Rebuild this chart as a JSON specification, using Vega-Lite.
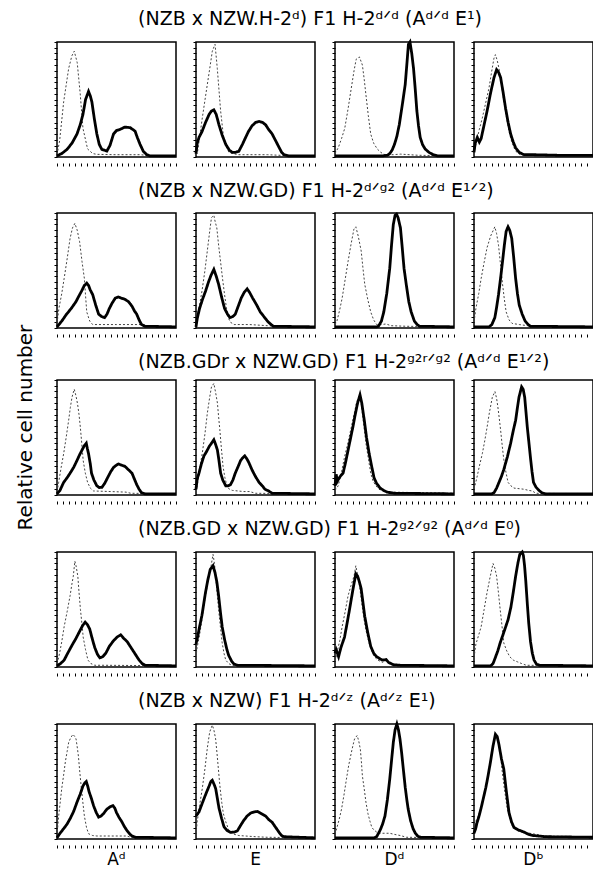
{
"$schema": "https://vega.github.io/schema/vega-lite/v6.json",
"padding": {"left": 15, "top": 9, "right": 0, "bottom": 0},
"config": {
 "view": {"stroke": "#000", "strokeWidth": 1.5},
 "font": "DejaVu Sans",
 "axis": {"labels": false, "title": null, "domain": false, "grid": false, "ticks": true, "tickSize": 3, "tickColor": "#000", "tickWidth": 1, "minExtent": 0, "maxExtent": 3},
 "title": {"font": "DejaVu Sans", "fontWeight": "normal", "color": "#000"}
},
"title": {"text": "Relative cell number", "orient": "left", "anchor": "middle", "fontSize": 20, "offset": 15, "dx": 11},
"datasets": {"d": [
{"r":1,"c":1,"s":"a","x":0,"y":2},{"r":1,"c":1,"s":"a","x":2.2,"y":14},{"r":1,"c":1,"s":"a","x":5.6,"y":48},{"r":1,"c":1,"s":"a","x":9.8,"y":77},{"r":1,"c":1,"s":"a","x":12.5,"y":88},{"r":1,"c":1,"s":"a","x":14.5,"y":92},{"r":1,"c":1,"s":"a","x":17,"y":82},{"r":1,"c":1,"s":"a","x":19.5,"y":55},{"r":1,"c":1,"s":"a","x":21.8,"y":25},{"r":1,"c":1,"s":"a","x":25.7,"y":7},{"r":1,"c":1,"s":"a","x":30,"y":3},{"r":1,"c":1,"s":"a","x":33.5,"y":2.3},{"r":1,"c":1,"s":"a","x":50,"y":2},{"r":1,"c":1,"s":"a","x":70,"y":2},{"r":1,"c":1,"s":"a","x":80,"y":1},{"r":1,"c":1,"s":"a","x":100,"y":1},
{"r":1,"c":1,"s":"b","x":0,"y":1},{"r":1,"c":1,"s":"b","x":4,"y":3},{"r":1,"c":1,"s":"b","x":8.4,"y":6.6},{"r":1,"c":1,"s":"b","x":12.6,"y":12},{"r":1,"c":1,"s":"b","x":16.8,"y":20},{"r":1,"c":1,"s":"b","x":19.5,"y":28},{"r":1,"c":1,"s":"b","x":21.8,"y":37},{"r":1,"c":1,"s":"b","x":24,"y":50},{"r":1,"c":1,"s":"b","x":26.5,"y":57},{"r":1,"c":1,"s":"b","x":28,"y":53},{"r":1,"c":1,"s":"b","x":29.3,"y":48},{"r":1,"c":1,"s":"b","x":31.4,"y":33},{"r":1,"c":1,"s":"b","x":33.5,"y":20},{"r":1,"c":1,"s":"b","x":35.5,"y":11},{"r":1,"c":1,"s":"b","x":37.7,"y":6.6},{"r":1,"c":1,"s":"b","x":41.9,"y":5.2},{"r":1,"c":1,"s":"b","x":44.5,"y":10},{"r":1,"c":1,"s":"b","x":47.5,"y":20},{"r":1,"c":1,"s":"b","x":50,"y":23},{"r":1,"c":1,"s":"b","x":53,"y":24},{"r":1,"c":1,"s":"b","x":57,"y":26},{"r":1,"c":1,"s":"b","x":61.5,"y":25.5},{"r":1,"c":1,"s":"b","x":65.6,"y":22.5},{"r":1,"c":1,"s":"b","x":67.5,"y":17},{"r":1,"c":1,"s":"b","x":69.8,"y":11},{"r":1,"c":1,"s":"b","x":72.5,"y":5},{"r":1,"c":1,"s":"b","x":75.4,"y":2},{"r":1,"c":1,"s":"b","x":78,"y":1},{"r":1,"c":1,"s":"b","x":100,"y":1},
{"r":1,"c":2,"s":"a","x":0,"y":2},{"r":1,"c":2,"s":"a","x":1.1,"y":3},{"r":1,"c":2,"s":"a","x":5.3,"y":34},{"r":1,"c":2,"s":"a","x":9.5,"y":63},{"r":1,"c":2,"s":"a","x":12,"y":80},{"r":1,"c":2,"s":"a","x":13.7,"y":92},{"r":1,"c":2,"s":"a","x":16,"y":98},{"r":1,"c":2,"s":"a","x":17.9,"y":77},{"r":1,"c":2,"s":"a","x":20.7,"y":40},{"r":1,"c":2,"s":"a","x":23.5,"y":14},{"r":1,"c":2,"s":"a","x":27.7,"y":4},{"r":1,"c":2,"s":"a","x":35,"y":2},{"r":1,"c":2,"s":"a","x":60,"y":2},{"r":1,"c":2,"s":"a","x":80,"y":1},{"r":1,"c":2,"s":"a","x":100,"y":1},
{"r":1,"c":2,"s":"b","x":0,"y":3},{"r":1,"c":2,"s":"b","x":1,"y":12},{"r":1,"c":2,"s":"b","x":2.5,"y":17},{"r":1,"c":2,"s":"b","x":5,"y":22},{"r":1,"c":2,"s":"b","x":8,"y":30},{"r":1,"c":2,"s":"b","x":11,"y":37},{"r":1,"c":2,"s":"b","x":13,"y":40},{"r":1,"c":2,"s":"b","x":15,"y":41},{"r":1,"c":2,"s":"b","x":17,"y":37},{"r":1,"c":2,"s":"b","x":19.3,"y":28},{"r":1,"c":2,"s":"b","x":22,"y":19},{"r":1,"c":2,"s":"b","x":25,"y":11},{"r":1,"c":2,"s":"b","x":28,"y":6},{"r":1,"c":2,"s":"b","x":30.5,"y":4},{"r":1,"c":2,"s":"b","x":33,"y":4},{"r":1,"c":2,"s":"b","x":36,"y":5},{"r":1,"c":2,"s":"b","x":39,"y":11},{"r":1,"c":2,"s":"b","x":41.7,"y":17},{"r":1,"c":2,"s":"b","x":44,"y":22},{"r":1,"c":2,"s":"b","x":47,"y":27},{"r":1,"c":2,"s":"b","x":50,"y":30},{"r":1,"c":2,"s":"b","x":53,"y":31},{"r":1,"c":2,"s":"b","x":56,"y":30},{"r":1,"c":2,"s":"b","x":58.5,"y":28},{"r":1,"c":2,"s":"b","x":61,"y":24},{"r":1,"c":2,"s":"b","x":64,"y":20},{"r":1,"c":2,"s":"b","x":67,"y":14},{"r":1,"c":2,"s":"b","x":70,"y":8},{"r":1,"c":2,"s":"b","x":72,"y":4},{"r":1,"c":2,"s":"b","x":74,"y":2},{"r":1,"c":2,"s":"b","x":78,"y":1},{"r":1,"c":2,"s":"b","x":100,"y":1},
{"r":1,"c":3,"s":"a","x":0,"y":3},{"r":1,"c":3,"s":"a","x":2.7,"y":8},{"r":1,"c":3,"s":"a","x":5.5,"y":16},{"r":1,"c":3,"s":"a","x":8.2,"y":25},{"r":1,"c":3,"s":"a","x":11,"y":42},{"r":1,"c":3,"s":"a","x":13.7,"y":60},{"r":1,"c":3,"s":"a","x":16,"y":75},{"r":1,"c":3,"s":"a","x":17.8,"y":85},{"r":1,"c":3,"s":"a","x":20.5,"y":87},{"r":1,"c":3,"s":"a","x":23,"y":80},{"r":1,"c":3,"s":"a","x":24.5,"y":68},{"r":1,"c":3,"s":"a","x":26,"y":54},{"r":1,"c":3,"s":"a","x":28,"y":36},{"r":1,"c":3,"s":"a","x":30,"y":20},{"r":1,"c":3,"s":"a","x":32.5,"y":12},{"r":1,"c":3,"s":"a","x":35.5,"y":7},{"r":1,"c":3,"s":"a","x":38.5,"y":4},{"r":1,"c":3,"s":"a","x":42,"y":2},{"r":1,"c":3,"s":"a","x":49,"y":2},{"r":1,"c":3,"s":"a","x":55,"y":2.5},{"r":1,"c":3,"s":"a","x":70,"y":1.5},{"r":1,"c":3,"s":"a","x":100,"y":1},
{"r":1,"c":3,"s":"b","x":0,"y":1},{"r":1,"c":3,"s":"b","x":40,"y":1},{"r":1,"c":3,"s":"b","x":44,"y":1.5},{"r":1,"c":3,"s":"b","x":46,"y":3},{"r":1,"c":3,"s":"b","x":48,"y":6},{"r":1,"c":3,"s":"b","x":50,"y":11},{"r":1,"c":3,"s":"b","x":52,"y":18},{"r":1,"c":3,"s":"b","x":54,"y":28},{"r":1,"c":3,"s":"b","x":56.5,"y":45},{"r":1,"c":3,"s":"b","x":59,"y":63},{"r":1,"c":3,"s":"b","x":60.5,"y":82},{"r":1,"c":3,"s":"b","x":61.7,"y":98},{"r":1,"c":3,"s":"b","x":63,"y":100},{"r":1,"c":3,"s":"b","x":64.5,"y":90},{"r":1,"c":3,"s":"b","x":66,"y":77},{"r":1,"c":3,"s":"b","x":67.5,"y":58},{"r":1,"c":3,"s":"b","x":68.8,"y":40},{"r":1,"c":3,"s":"b","x":70.2,"y":27},{"r":1,"c":3,"s":"b","x":71.6,"y":17},{"r":1,"c":3,"s":"b","x":73.5,"y":11},{"r":1,"c":3,"s":"b","x":75.7,"y":7},{"r":1,"c":3,"s":"b","x":79,"y":4},{"r":1,"c":3,"s":"b","x":82.5,"y":2},{"r":1,"c":3,"s":"b","x":86,"y":1},{"r":1,"c":3,"s":"b","x":100,"y":1},
{"r":1,"c":4,"s":"a","x":0,"y":3},{"r":1,"c":4,"s":"a","x":2.2,"y":14},{"r":1,"c":4,"s":"a","x":4.5,"y":24},{"r":1,"c":4,"s":"a","x":7,"y":34},{"r":1,"c":4,"s":"a","x":9.8,"y":47},{"r":1,"c":4,"s":"a","x":12.6,"y":60},{"r":1,"c":4,"s":"a","x":14.8,"y":74},{"r":1,"c":4,"s":"a","x":16.8,"y":86},{"r":1,"c":4,"s":"a","x":18,"y":89},{"r":1,"c":4,"s":"a","x":19.5,"y":84},{"r":1,"c":4,"s":"a","x":21,"y":77},{"r":1,"c":4,"s":"a","x":23,"y":63},{"r":1,"c":4,"s":"a","x":25,"y":49},{"r":1,"c":4,"s":"a","x":27.2,"y":35},{"r":1,"c":4,"s":"a","x":29.4,"y":22.5},{"r":1,"c":4,"s":"a","x":31.5,"y":14},{"r":1,"c":4,"s":"a","x":33.6,"y":8},{"r":1,"c":4,"s":"a","x":36,"y":4},{"r":1,"c":4,"s":"a","x":39,"y":2},{"r":1,"c":4,"s":"a","x":50,"y":1.5},{"r":1,"c":4,"s":"a","x":100,"y":1.5},
{"r":1,"c":4,"s":"b","x":0,"y":4},{"r":1,"c":4,"s":"b","x":1,"y":12},{"r":1,"c":4,"s":"b","x":2.8,"y":17},{"r":1,"c":4,"s":"b","x":4.5,"y":13},{"r":1,"c":4,"s":"b","x":6,"y":16},{"r":1,"c":4,"s":"b","x":8.5,"y":28},{"r":1,"c":4,"s":"b","x":11,"y":40},{"r":1,"c":4,"s":"b","x":14,"y":56},{"r":1,"c":4,"s":"b","x":16.8,"y":69},{"r":1,"c":4,"s":"b","x":19,"y":76},{"r":1,"c":4,"s":"b","x":20.5,"y":74},{"r":1,"c":4,"s":"b","x":22.4,"y":69},{"r":1,"c":4,"s":"b","x":24.5,"y":56},{"r":1,"c":4,"s":"b","x":26.6,"y":42},{"r":1,"c":4,"s":"b","x":28.7,"y":30},{"r":1,"c":4,"s":"b","x":30.8,"y":20},{"r":1,"c":4,"s":"b","x":33,"y":13},{"r":1,"c":4,"s":"b","x":35,"y":8},{"r":1,"c":4,"s":"b","x":38,"y":4},{"r":1,"c":4,"s":"b","x":42,"y":2},{"r":1,"c":4,"s":"b","x":50,"y":2},{"r":1,"c":4,"s":"b","x":70,"y":1.5},{"r":1,"c":4,"s":"b","x":100,"y":1.5},
{"r":2,"c":1,"s":"a","x":0,"y":4},{"r":2,"c":1,"s":"a","x":1.6,"y":17},{"r":2,"c":1,"s":"a","x":4,"y":30},{"r":2,"c":1,"s":"a","x":6,"y":43},{"r":2,"c":1,"s":"a","x":8.5,"y":60},{"r":2,"c":1,"s":"a","x":11,"y":78},{"r":2,"c":1,"s":"a","x":13,"y":87},{"r":2,"c":1,"s":"a","x":15,"y":91},{"r":2,"c":1,"s":"a","x":17,"y":85},{"r":2,"c":1,"s":"a","x":19,"y":75},{"r":2,"c":1,"s":"a","x":21,"y":58},{"r":2,"c":1,"s":"a","x":23,"y":43},{"r":2,"c":1,"s":"a","x":24,"y":28},{"r":2,"c":1,"s":"a","x":25,"y":14},{"r":2,"c":1,"s":"a","x":27.5,"y":6},{"r":2,"c":1,"s":"a","x":30,"y":3},{"r":2,"c":1,"s":"a","x":50,"y":3},{"r":2,"c":1,"s":"a","x":73,"y":3},{"r":2,"c":1,"s":"a","x":76,"y":1.5},{"r":2,"c":1,"s":"a","x":100,"y":1},
{"r":2,"c":1,"s":"b","x":0,"y":1},{"r":2,"c":1,"s":"b","x":4,"y":6},{"r":2,"c":1,"s":"b","x":8,"y":12},{"r":2,"c":1,"s":"b","x":12,"y":17},{"r":2,"c":1,"s":"b","x":16,"y":23},{"r":2,"c":1,"s":"b","x":18.5,"y":28},{"r":2,"c":1,"s":"b","x":20.6,"y":32},{"r":2,"c":1,"s":"b","x":23,"y":37},{"r":2,"c":1,"s":"b","x":25,"y":39},{"r":2,"c":1,"s":"b","x":26.5,"y":37},{"r":2,"c":1,"s":"b","x":28,"y":33},{"r":2,"c":1,"s":"b","x":30,"y":29},{"r":2,"c":1,"s":"b","x":32.5,"y":20},{"r":2,"c":1,"s":"b","x":35,"y":12},{"r":2,"c":1,"s":"b","x":37.5,"y":10},{"r":2,"c":1,"s":"b","x":40,"y":9},{"r":2,"c":1,"s":"b","x":42,"y":12},{"r":2,"c":1,"s":"b","x":44,"y":17},{"r":2,"c":1,"s":"b","x":46.5,"y":22},{"r":2,"c":1,"s":"b","x":49,"y":26},{"r":2,"c":1,"s":"b","x":51.5,"y":27},{"r":2,"c":1,"s":"b","x":54,"y":26},{"r":2,"c":1,"s":"b","x":57,"y":25},{"r":2,"c":1,"s":"b","x":60,"y":23},{"r":2,"c":1,"s":"b","x":63,"y":19},{"r":2,"c":1,"s":"b","x":65,"y":15},{"r":2,"c":1,"s":"b","x":67,"y":12},{"r":2,"c":1,"s":"b","x":69,"y":7},{"r":2,"c":1,"s":"b","x":71,"y":3},{"r":2,"c":1,"s":"b","x":74,"y":1.5},{"r":2,"c":1,"s":"b","x":100,"y":1},
{"r":2,"c":2,"s":"a","x":0,"y":3},{"r":2,"c":2,"s":"a","x":0.6,"y":9},{"r":2,"c":2,"s":"a","x":3,"y":20},{"r":2,"c":2,"s":"a","x":5,"y":32},{"r":2,"c":2,"s":"a","x":7.5,"y":50},{"r":2,"c":2,"s":"a","x":9.5,"y":67},{"r":2,"c":2,"s":"a","x":11.5,"y":84},{"r":2,"c":2,"s":"a","x":13,"y":96},{"r":2,"c":2,"s":"a","x":15,"y":98},{"r":2,"c":2,"s":"a","x":16,"y":93},{"r":2,"c":2,"s":"a","x":17.5,"y":87},{"r":2,"c":2,"s":"a","x":19,"y":72},{"r":2,"c":2,"s":"a","x":20.6,"y":58},{"r":2,"c":2,"s":"a","x":22.3,"y":43},{"r":2,"c":2,"s":"a","x":24,"y":29},{"r":2,"c":2,"s":"a","x":25.5,"y":18},{"r":2,"c":2,"s":"a","x":27,"y":9},{"r":2,"c":2,"s":"a","x":29,"y":5},{"r":2,"c":2,"s":"a","x":32,"y":3},{"r":2,"c":2,"s":"a","x":45,"y":3},{"r":2,"c":2,"s":"a","x":60,"y":2},{"r":2,"c":2,"s":"a","x":80,"y":1},{"r":2,"c":2,"s":"a","x":100,"y":1},
{"r":2,"c":2,"s":"b","x":0,"y":1},{"r":2,"c":2,"s":"b","x":1,"y":8},{"r":2,"c":2,"s":"b","x":3,"y":17},{"r":2,"c":2,"s":"b","x":5.5,"y":25},{"r":2,"c":2,"s":"b","x":8,"y":32},{"r":2,"c":2,"s":"b","x":10.5,"y":40},{"r":2,"c":2,"s":"b","x":12.7,"y":46},{"r":2,"c":2,"s":"b","x":15,"y":51},{"r":2,"c":2,"s":"b","x":17,"y":45},{"r":2,"c":2,"s":"b","x":19,"y":38},{"r":2,"c":2,"s":"b","x":21.5,"y":27},{"r":2,"c":2,"s":"b","x":24,"y":17},{"r":2,"c":2,"s":"b","x":26.5,"y":12},{"r":2,"c":2,"s":"b","x":28.6,"y":9},{"r":2,"c":2,"s":"b","x":31,"y":10},{"r":2,"c":2,"s":"b","x":33,"y":12},{"r":2,"c":2,"s":"b","x":35.5,"y":19},{"r":2,"c":2,"s":"b","x":38,"y":26},{"r":2,"c":2,"s":"b","x":40.5,"y":31},{"r":2,"c":2,"s":"b","x":43,"y":34},{"r":2,"c":2,"s":"b","x":45,"y":31},{"r":2,"c":2,"s":"b","x":47.6,"y":26},{"r":2,"c":2,"s":"b","x":51,"y":20},{"r":2,"c":2,"s":"b","x":54,"y":14},{"r":2,"c":2,"s":"b","x":57,"y":10},{"r":2,"c":2,"s":"b","x":60,"y":6},{"r":2,"c":2,"s":"b","x":62.5,"y":3.5},{"r":2,"c":2,"s":"b","x":65,"y":1.5},{"r":2,"c":2,"s":"b","x":100,"y":1},
{"r":2,"c":3,"s":"a","x":0,"y":3},{"r":2,"c":3,"s":"a","x":1.6,"y":6},{"r":2,"c":3,"s":"a","x":4,"y":16},{"r":2,"c":3,"s":"a","x":6,"y":26},{"r":2,"c":3,"s":"a","x":8.5,"y":42},{"r":2,"c":3,"s":"a","x":11,"y":58},{"r":2,"c":3,"s":"a","x":13.5,"y":73},{"r":2,"c":3,"s":"a","x":15.9,"y":86},{"r":2,"c":3,"s":"a","x":17.5,"y":88},{"r":2,"c":3,"s":"a","x":19.5,"y":80},{"r":2,"c":3,"s":"a","x":22,"y":67},{"r":2,"c":3,"s":"a","x":23.5,"y":52},{"r":2,"c":3,"s":"a","x":25,"y":38},{"r":2,"c":3,"s":"a","x":27.5,"y":25},{"r":2,"c":3,"s":"a","x":30,"y":14},{"r":2,"c":3,"s":"a","x":32.5,"y":7},{"r":2,"c":3,"s":"a","x":35,"y":3},{"r":2,"c":3,"s":"a","x":39,"y":3},{"r":2,"c":3,"s":"a","x":43,"y":3.5},{"r":2,"c":3,"s":"a","x":47,"y":2},{"r":2,"c":3,"s":"a","x":60,"y":1.5},{"r":2,"c":3,"s":"a","x":100,"y":1},
{"r":2,"c":3,"s":"b","x":0,"y":1},{"r":2,"c":3,"s":"b","x":35,"y":1},{"r":2,"c":3,"s":"b","x":36.5,"y":1.5},{"r":2,"c":3,"s":"b","x":39,"y":6},{"r":2,"c":3,"s":"b","x":41,"y":14},{"r":2,"c":3,"s":"b","x":43.5,"y":30},{"r":2,"c":3,"s":"b","x":46,"y":52},{"r":2,"c":3,"s":"b","x":47.5,"y":72},{"r":2,"c":3,"s":"b","x":49,"y":90},{"r":2,"c":3,"s":"b","x":50.5,"y":98},{"r":2,"c":3,"s":"b","x":51.7,"y":99},{"r":2,"c":3,"s":"b","x":53,"y":96},{"r":2,"c":3,"s":"b","x":55,"y":87},{"r":2,"c":3,"s":"b","x":56.5,"y":70},{"r":2,"c":3,"s":"b","x":58,"y":52},{"r":2,"c":3,"s":"b","x":60,"y":37},{"r":2,"c":3,"s":"b","x":62,"y":23},{"r":2,"c":3,"s":"b","x":64,"y":14},{"r":2,"c":3,"s":"b","x":66.7,"y":6},{"r":2,"c":3,"s":"b","x":69,"y":3},{"r":2,"c":3,"s":"b","x":71,"y":1.5},{"r":2,"c":3,"s":"b","x":100,"y":1},
{"r":2,"c":4,"s":"a","x":0,"y":5},{"r":2,"c":4,"s":"a","x":1.6,"y":17},{"r":2,"c":4,"s":"a","x":4,"y":30},{"r":2,"c":4,"s":"a","x":6,"y":43},{"r":2,"c":4,"s":"a","x":8.5,"y":57},{"r":2,"c":4,"s":"a","x":11,"y":70},{"r":2,"c":4,"s":"a","x":14,"y":80},{"r":2,"c":4,"s":"a","x":17.5,"y":88},{"r":2,"c":4,"s":"a","x":19,"y":82},{"r":2,"c":4,"s":"a","x":20.6,"y":72},{"r":2,"c":4,"s":"a","x":22.3,"y":55},{"r":2,"c":4,"s":"a","x":24,"y":38},{"r":2,"c":4,"s":"a","x":25.5,"y":25},{"r":2,"c":4,"s":"a","x":27,"y":14},{"r":2,"c":4,"s":"a","x":29.5,"y":7},{"r":2,"c":4,"s":"a","x":32,"y":4},{"r":2,"c":4,"s":"a","x":38,"y":3},{"r":2,"c":4,"s":"a","x":45,"y":2},{"r":2,"c":4,"s":"a","x":60,"y":1},{"r":2,"c":4,"s":"a","x":100,"y":1},
{"r":2,"c":4,"s":"b","x":0,"y":1},{"r":2,"c":4,"s":"b","x":12.7,"y":1},{"r":2,"c":4,"s":"b","x":15,"y":3},{"r":2,"c":4,"s":"b","x":17.5,"y":9},{"r":2,"c":4,"s":"b","x":19,"y":18},{"r":2,"c":4,"s":"b","x":20.6,"y":29},{"r":2,"c":4,"s":"b","x":22.3,"y":43},{"r":2,"c":4,"s":"b","x":24,"y":58},{"r":2,"c":4,"s":"b","x":25.5,"y":72},{"r":2,"c":4,"s":"b","x":27,"y":84},{"r":2,"c":4,"s":"b","x":28.6,"y":88},{"r":2,"c":4,"s":"b","x":30,"y":85},{"r":2,"c":4,"s":"b","x":31.7,"y":78},{"r":2,"c":4,"s":"b","x":33.3,"y":62},{"r":2,"c":4,"s":"b","x":35,"y":43},{"r":2,"c":4,"s":"b","x":36.5,"y":30},{"r":2,"c":4,"s":"b","x":38,"y":20},{"r":2,"c":4,"s":"b","x":40.5,"y":12},{"r":2,"c":4,"s":"b","x":43,"y":6},{"r":2,"c":4,"s":"b","x":45.5,"y":3},{"r":2,"c":4,"s":"b","x":47.6,"y":1.5},{"r":2,"c":4,"s":"b","x":100,"y":1},
{"r":3,"c":1,"s":"a","x":0,"y":3},{"r":3,"c":1,"s":"a","x":1.4,"y":11},{"r":3,"c":1,"s":"a","x":3.5,"y":24},{"r":3,"c":1,"s":"a","x":5.6,"y":36},{"r":3,"c":1,"s":"a","x":7.7,"y":50},{"r":3,"c":1,"s":"a","x":9.8,"y":65},{"r":3,"c":1,"s":"a","x":11.2,"y":76},{"r":3,"c":1,"s":"a","x":12.6,"y":85},{"r":3,"c":1,"s":"a","x":14.5,"y":92},{"r":3,"c":1,"s":"a","x":16,"y":86},{"r":3,"c":1,"s":"a","x":17.3,"y":79},{"r":3,"c":1,"s":"a","x":18.5,"y":70},{"r":3,"c":1,"s":"a","x":19.6,"y":59},{"r":3,"c":1,"s":"a","x":20.8,"y":45},{"r":3,"c":1,"s":"a","x":22,"y":30},{"r":3,"c":1,"s":"a","x":23.8,"y":19},{"r":3,"c":1,"s":"a","x":25.7,"y":11},{"r":3,"c":1,"s":"a","x":28,"y":6},{"r":3,"c":1,"s":"a","x":30.7,"y":3.5},{"r":3,"c":1,"s":"a","x":45,"y":3},{"r":3,"c":1,"s":"a","x":58,"y":2.5},{"r":3,"c":1,"s":"a","x":62,"y":1.5},{"r":3,"c":1,"s":"a","x":100,"y":1},
{"r":3,"c":1,"s":"b","x":0,"y":1},{"r":3,"c":1,"s":"b","x":2.5,"y":4},{"r":3,"c":1,"s":"b","x":5.6,"y":11},{"r":3,"c":1,"s":"b","x":8.5,"y":15},{"r":3,"c":1,"s":"b","x":11,"y":19},{"r":3,"c":1,"s":"b","x":14,"y":24},{"r":3,"c":1,"s":"b","x":16.8,"y":30},{"r":3,"c":1,"s":"b","x":19,"y":35},{"r":3,"c":1,"s":"b","x":21,"y":39},{"r":3,"c":1,"s":"b","x":23,"y":43},{"r":3,"c":1,"s":"b","x":24.6,"y":45},{"r":3,"c":1,"s":"b","x":25.6,"y":40},{"r":3,"c":1,"s":"b","x":26.5,"y":36},{"r":3,"c":1,"s":"b","x":28,"y":27},{"r":3,"c":1,"s":"b","x":29,"y":19},{"r":3,"c":1,"s":"b","x":31,"y":13},{"r":3,"c":1,"s":"b","x":33.5,"y":8},{"r":3,"c":1,"s":"b","x":35.5,"y":6.5},{"r":3,"c":1,"s":"b","x":37.7,"y":6.6},{"r":3,"c":1,"s":"b","x":40,"y":10},{"r":3,"c":1,"s":"b","x":42,"y":14},{"r":3,"c":1,"s":"b","x":45,"y":20},{"r":3,"c":1,"s":"b","x":47.5,"y":24},{"r":3,"c":1,"s":"b","x":50,"y":26},{"r":3,"c":1,"s":"b","x":51.7,"y":27},{"r":3,"c":1,"s":"b","x":54,"y":26},{"r":3,"c":1,"s":"b","x":57,"y":25},{"r":3,"c":1,"s":"b","x":60,"y":22},{"r":3,"c":1,"s":"b","x":63,"y":19},{"r":3,"c":1,"s":"b","x":65,"y":14},{"r":3,"c":1,"s":"b","x":67,"y":9},{"r":3,"c":1,"s":"b","x":69,"y":5},{"r":3,"c":1,"s":"b","x":71,"y":2},{"r":3,"c":1,"s":"b","x":74,"y":1},{"r":3,"c":1,"s":"b","x":100,"y":1},
{"r":3,"c":2,"s":"a","x":0,"y":3},{"r":3,"c":2,"s":"a","x":1,"y":8},{"r":3,"c":2,"s":"a","x":3,"y":22},{"r":3,"c":2,"s":"a","x":5.3,"y":36.5},{"r":3,"c":2,"s":"a","x":7.5,"y":53},{"r":3,"c":2,"s":"a","x":9.5,"y":71},{"r":3,"c":2,"s":"a","x":11.5,"y":85},{"r":3,"c":2,"s":"a","x":13,"y":94},{"r":3,"c":2,"s":"a","x":15,"y":97},{"r":3,"c":2,"s":"a","x":16.5,"y":89},{"r":3,"c":2,"s":"a","x":18,"y":80},{"r":3,"c":2,"s":"a","x":19,"y":68},{"r":3,"c":2,"s":"a","x":20,"y":57},{"r":3,"c":2,"s":"a","x":21.3,"y":41},{"r":3,"c":2,"s":"a","x":22.7,"y":25},{"r":3,"c":2,"s":"a","x":24.3,"y":15},{"r":3,"c":2,"s":"a","x":26,"y":8},{"r":3,"c":2,"s":"a","x":28,"y":5},{"r":3,"c":2,"s":"a","x":30.5,"y":4},{"r":3,"c":2,"s":"a","x":40,"y":3},{"r":3,"c":2,"s":"a","x":45,"y":3},{"r":3,"c":2,"s":"a","x":50,"y":1.5},{"r":3,"c":2,"s":"a","x":100,"y":1},
{"r":3,"c":2,"s":"b","x":0,"y":5},{"r":3,"c":2,"s":"b","x":1,"y":14},{"r":3,"c":2,"s":"b","x":2.5,"y":19},{"r":3,"c":2,"s":"b","x":4.5,"y":27},{"r":3,"c":2,"s":"b","x":6.7,"y":34},{"r":3,"c":2,"s":"b","x":9,"y":38},{"r":3,"c":2,"s":"b","x":11,"y":42},{"r":3,"c":2,"s":"b","x":13,"y":45},{"r":3,"c":2,"s":"b","x":15,"y":48},{"r":3,"c":2,"s":"b","x":16.5,"y":44},{"r":3,"c":2,"s":"b","x":18,"y":39},{"r":3,"c":2,"s":"b","x":19.3,"y":30},{"r":3,"c":2,"s":"b","x":20.7,"y":19},{"r":3,"c":2,"s":"b","x":22.5,"y":13},{"r":3,"c":2,"s":"b","x":25,"y":8},{"r":3,"c":2,"s":"b","x":27,"y":8},{"r":3,"c":2,"s":"b","x":29,"y":9},{"r":3,"c":2,"s":"b","x":31,"y":13},{"r":3,"c":2,"s":"b","x":33,"y":19},{"r":3,"c":2,"s":"b","x":35.5,"y":25},{"r":3,"c":2,"s":"b","x":37.5,"y":30},{"r":3,"c":2,"s":"b","x":39,"y":32},{"r":3,"c":2,"s":"b","x":41,"y":34},{"r":3,"c":2,"s":"b","x":43,"y":31},{"r":3,"c":2,"s":"b","x":44.5,"y":28},{"r":3,"c":2,"s":"b","x":47,"y":22},{"r":3,"c":2,"s":"b","x":50,"y":16},{"r":3,"c":2,"s":"b","x":53,"y":11},{"r":3,"c":2,"s":"b","x":55.7,"y":8},{"r":3,"c":2,"s":"b","x":58,"y":5},{"r":3,"c":2,"s":"b","x":61,"y":3.5},{"r":3,"c":2,"s":"b","x":64,"y":1.5},{"r":3,"c":2,"s":"b","x":100,"y":1},
{"r":3,"c":3,"s":"a","x":0,"y":4},{"r":3,"c":3,"s":"a","x":2.7,"y":8},{"r":3,"c":3,"s":"a","x":5.5,"y":20},{"r":3,"c":3,"s":"a","x":8,"y":33},{"r":3,"c":3,"s":"a","x":11,"y":46},{"r":3,"c":3,"s":"a","x":13.7,"y":59},{"r":3,"c":3,"s":"a","x":16,"y":70},{"r":3,"c":3,"s":"a","x":18,"y":80},{"r":3,"c":3,"s":"a","x":20.5,"y":87},{"r":3,"c":3,"s":"a","x":22,"y":80},{"r":3,"c":3,"s":"a","x":23,"y":71},{"r":3,"c":3,"s":"a","x":24.5,"y":58},{"r":3,"c":3,"s":"a","x":26,"y":45},{"r":3,"c":3,"s":"a","x":28,"y":32},{"r":3,"c":3,"s":"a","x":30,"y":19},{"r":3,"c":3,"s":"a","x":32,"y":12},{"r":3,"c":3,"s":"a","x":34.4,"y":8},{"r":3,"c":3,"s":"a","x":37,"y":5},{"r":3,"c":3,"s":"a","x":40,"y":3.5},{"r":3,"c":3,"s":"a","x":46,"y":2.5},{"r":3,"c":3,"s":"a","x":100,"y":1.5},
{"r":3,"c":3,"s":"b","x":0,"y":8},{"r":3,"c":3,"s":"b","x":1,"y":18},{"r":3,"c":3,"s":"b","x":2,"y":12},{"r":3,"c":3,"s":"b","x":3,"y":14},{"r":3,"c":3,"s":"b","x":5,"y":17},{"r":3,"c":3,"s":"b","x":6.8,"y":19},{"r":3,"c":3,"s":"b","x":9,"y":29},{"r":3,"c":3,"s":"b","x":11,"y":39},{"r":3,"c":3,"s":"b","x":13,"y":49},{"r":3,"c":3,"s":"b","x":15,"y":59},{"r":3,"c":3,"s":"b","x":17,"y":70},{"r":3,"c":3,"s":"b","x":19,"y":80},{"r":3,"c":3,"s":"b","x":21,"y":87},{"r":3,"c":3,"s":"b","x":22.5,"y":80},{"r":3,"c":3,"s":"b","x":24.6,"y":65},{"r":3,"c":3,"s":"b","x":26.5,"y":50},{"r":3,"c":3,"s":"b","x":28.7,"y":36},{"r":3,"c":3,"s":"b","x":30.8,"y":25},{"r":3,"c":3,"s":"b","x":32.8,"y":15},{"r":3,"c":3,"s":"b","x":35,"y":10},{"r":3,"c":3,"s":"b","x":38,"y":6},{"r":3,"c":3,"s":"b","x":41,"y":4},{"r":3,"c":3,"s":"b","x":43.7,"y":2.5},{"r":3,"c":3,"s":"b","x":50,"y":1.5},{"r":3,"c":3,"s":"b","x":100,"y":1},
{"r":3,"c":4,"s":"a","x":0,"y":5},{"r":3,"c":4,"s":"a","x":2.2,"y":14},{"r":3,"c":4,"s":"a","x":4.5,"y":25},{"r":3,"c":4,"s":"a","x":7,"y":36},{"r":3,"c":4,"s":"a","x":9,"y":47},{"r":3,"c":4,"s":"a","x":11,"y":59},{"r":3,"c":4,"s":"a","x":13,"y":72},{"r":3,"c":4,"s":"a","x":15.4,"y":85},{"r":3,"c":4,"s":"a","x":17.6,"y":90},{"r":3,"c":4,"s":"a","x":19,"y":84},{"r":3,"c":4,"s":"a","x":20,"y":77},{"r":3,"c":4,"s":"a","x":21.2,"y":67},{"r":3,"c":4,"s":"a","x":22.4,"y":56},{"r":3,"c":4,"s":"a","x":23.7,"y":43},{"r":3,"c":4,"s":"a","x":25,"y":31},{"r":3,"c":4,"s":"a","x":26.8,"y":20},{"r":3,"c":4,"s":"a","x":28.6,"y":11},{"r":3,"c":4,"s":"a","x":31,"y":8},{"r":3,"c":4,"s":"a","x":33.6,"y":6},{"r":3,"c":4,"s":"a","x":38,"y":5.5},{"r":3,"c":4,"s":"a","x":42,"y":5},{"r":3,"c":4,"s":"a","x":46,"y":4},{"r":3,"c":4,"s":"a","x":49,"y":3.5},{"r":3,"c":4,"s":"a","x":52,"y":1.5},{"r":3,"c":4,"s":"a","x":100,"y":1},
{"r":3,"c":4,"s":"b","x":0,"y":1},{"r":3,"c":4,"s":"b","x":15,"y":1},{"r":3,"c":4,"s":"b","x":16.8,"y":2},{"r":3,"c":4,"s":"b","x":19,"y":6},{"r":3,"c":4,"s":"b","x":21,"y":11},{"r":3,"c":4,"s":"b","x":23,"y":16},{"r":3,"c":4,"s":"b","x":25,"y":22},{"r":3,"c":4,"s":"b","x":28,"y":33},{"r":3,"c":4,"s":"b","x":30.8,"y":45},{"r":3,"c":4,"s":"b","x":33,"y":56},{"r":3,"c":4,"s":"b","x":35,"y":65},{"r":3,"c":4,"s":"b","x":36.5,"y":76},{"r":3,"c":4,"s":"b","x":37.8,"y":85},{"r":3,"c":4,"s":"b","x":40,"y":94},{"r":3,"c":4,"s":"b","x":41.3,"y":92},{"r":3,"c":4,"s":"b","x":42.6,"y":85},{"r":3,"c":4,"s":"b","x":43.7,"y":72},{"r":3,"c":4,"s":"b","x":44.8,"y":59},{"r":3,"c":4,"s":"b","x":46.2,"y":45},{"r":3,"c":4,"s":"b","x":47.6,"y":31},{"r":3,"c":4,"s":"b","x":48.8,"y":20},{"r":3,"c":4,"s":"b","x":50,"y":11},{"r":3,"c":4,"s":"b","x":52,"y":7},{"r":3,"c":4,"s":"b","x":54.6,"y":4},{"r":3,"c":4,"s":"b","x":57,"y":2},{"r":3,"c":4,"s":"b","x":60,"y":1},{"r":3,"c":4,"s":"b","x":100,"y":1},
{"r":4,"c":1,"s":"a","x":0,"y":3},{"r":4,"c":1,"s":"a","x":1.6,"y":9},{"r":4,"c":1,"s":"a","x":4,"y":22},{"r":4,"c":1,"s":"a","x":6,"y":35},{"r":4,"c":1,"s":"a","x":8.5,"y":48},{"r":4,"c":1,"s":"a","x":11,"y":62},{"r":4,"c":1,"s":"a","x":12.5,"y":72},{"r":4,"c":1,"s":"a","x":13.7,"y":79},{"r":4,"c":1,"s":"a","x":15,"y":92},{"r":4,"c":1,"s":"a","x":16,"y":88},{"r":4,"c":1,"s":"a","x":17.5,"y":79},{"r":4,"c":1,"s":"a","x":18.5,"y":65},{"r":4,"c":1,"s":"a","x":19.7,"y":50},{"r":4,"c":1,"s":"a","x":21,"y":37},{"r":4,"c":1,"s":"a","x":22,"y":26},{"r":4,"c":1,"s":"a","x":24,"y":15},{"r":4,"c":1,"s":"a","x":26,"y":6},{"r":4,"c":1,"s":"a","x":28.5,"y":3},{"r":4,"c":1,"s":"a","x":31.7,"y":1.5},{"r":4,"c":1,"s":"a","x":40,"y":1.5},{"r":4,"c":1,"s":"a","x":100,"y":1},
{"r":4,"c":1,"s":"b","x":0,"y":1},{"r":4,"c":1,"s":"b","x":3,"y":3},{"r":4,"c":1,"s":"b","x":6,"y":6},{"r":4,"c":1,"s":"b","x":9,"y":12},{"r":4,"c":1,"s":"b","x":12.7,"y":19},{"r":4,"c":1,"s":"b","x":16,"y":25},{"r":4,"c":1,"s":"b","x":19,"y":31},{"r":4,"c":1,"s":"b","x":21.5,"y":36},{"r":4,"c":1,"s":"b","x":23.7,"y":39},{"r":4,"c":1,"s":"b","x":25.5,"y":37},{"r":4,"c":1,"s":"b","x":27.5,"y":33},{"r":4,"c":1,"s":"b","x":29.5,"y":25},{"r":4,"c":1,"s":"b","x":31.7,"y":17},{"r":4,"c":1,"s":"b","x":34,"y":11},{"r":4,"c":1,"s":"b","x":36,"y":8},{"r":4,"c":1,"s":"b","x":38.5,"y":9},{"r":4,"c":1,"s":"b","x":41,"y":12},{"r":4,"c":1,"s":"b","x":44,"y":18},{"r":4,"c":1,"s":"b","x":47.6,"y":23},{"r":4,"c":1,"s":"b","x":50.5,"y":26},{"r":4,"c":1,"s":"b","x":53.5,"y":28},{"r":4,"c":1,"s":"b","x":56,"y":25},{"r":4,"c":1,"s":"b","x":59,"y":22},{"r":4,"c":1,"s":"b","x":61.5,"y":18},{"r":4,"c":1,"s":"b","x":64,"y":14},{"r":4,"c":1,"s":"b","x":66.5,"y":10},{"r":4,"c":1,"s":"b","x":69,"y":6},{"r":4,"c":1,"s":"b","x":71.5,"y":3},{"r":4,"c":1,"s":"b","x":74,"y":1.5},{"r":4,"c":1,"s":"b","x":100,"y":1},
{"r":4,"c":2,"s":"a","x":0,"y":5},{"r":4,"c":2,"s":"a","x":0.6,"y":15},{"r":4,"c":2,"s":"a","x":3,"y":28},{"r":4,"c":2,"s":"a","x":5,"y":41},{"r":4,"c":2,"s":"a","x":7,"y":56},{"r":4,"c":2,"s":"a","x":9.5,"y":71},{"r":4,"c":2,"s":"a","x":11,"y":80},{"r":4,"c":2,"s":"a","x":12.7,"y":88},{"r":4,"c":2,"s":"a","x":14.3,"y":98},{"r":4,"c":2,"s":"a","x":15.5,"y":90},{"r":4,"c":2,"s":"a","x":16.5,"y":79},{"r":4,"c":2,"s":"a","x":17.7,"y":65},{"r":4,"c":2,"s":"a","x":19,"y":50},{"r":4,"c":2,"s":"a","x":20.5,"y":35},{"r":4,"c":2,"s":"a","x":22,"y":21},{"r":4,"c":2,"s":"a","x":23.5,"y":12},{"r":4,"c":2,"s":"a","x":25,"y":6},{"r":4,"c":2,"s":"a","x":27.5,"y":3},{"r":4,"c":2,"s":"a","x":30,"y":1.5},{"r":4,"c":2,"s":"a","x":100,"y":1},
{"r":4,"c":2,"s":"b","x":0,"y":20},{"r":4,"c":2,"s":"b","x":1.5,"y":27},{"r":4,"c":2,"s":"b","x":3,"y":35},{"r":4,"c":2,"s":"b","x":5,"y":45},{"r":4,"c":2,"s":"b","x":6.5,"y":55},{"r":4,"c":2,"s":"b","x":8,"y":65},{"r":4,"c":2,"s":"b","x":10,"y":76},{"r":4,"c":2,"s":"b","x":12,"y":85},{"r":4,"c":2,"s":"b","x":14.3,"y":88},{"r":4,"c":2,"s":"b","x":16,"y":82},{"r":4,"c":2,"s":"b","x":17.5,"y":74},{"r":4,"c":2,"s":"b","x":19,"y":62},{"r":4,"c":2,"s":"b","x":20.5,"y":48},{"r":4,"c":2,"s":"b","x":22,"y":35},{"r":4,"c":2,"s":"b","x":24,"y":24},{"r":4,"c":2,"s":"b","x":26,"y":15},{"r":4,"c":2,"s":"b","x":27.5,"y":10},{"r":4,"c":2,"s":"b","x":30,"y":5},{"r":4,"c":2,"s":"b","x":32,"y":2.5},{"r":4,"c":2,"s":"b","x":35,"y":1.5},{"r":4,"c":2,"s":"b","x":100,"y":1},
{"r":4,"c":3,"s":"a","x":0,"y":5},{"r":4,"c":3,"s":"a","x":1.6,"y":12},{"r":4,"c":3,"s":"a","x":4,"y":23},{"r":4,"c":3,"s":"a","x":6,"y":35},{"r":4,"c":3,"s":"a","x":8.5,"y":48},{"r":4,"c":3,"s":"a","x":11,"y":62},{"r":4,"c":3,"s":"a","x":13.5,"y":71},{"r":4,"c":3,"s":"a","x":16,"y":79},{"r":4,"c":3,"s":"a","x":17.5,"y":88},{"r":4,"c":3,"s":"a","x":19,"y":80},{"r":4,"c":3,"s":"a","x":20.6,"y":71},{"r":4,"c":3,"s":"a","x":22.3,"y":57},{"r":4,"c":3,"s":"a","x":24,"y":44},{"r":4,"c":3,"s":"a","x":26,"y":32},{"r":4,"c":3,"s":"a","x":28.6,"y":21},{"r":4,"c":3,"s":"a","x":31,"y":14},{"r":4,"c":3,"s":"a","x":33,"y":9},{"r":4,"c":3,"s":"a","x":36,"y":6},{"r":4,"c":3,"s":"a","x":40,"y":4},{"r":4,"c":3,"s":"a","x":43,"y":6},{"r":4,"c":3,"s":"a","x":46,"y":3},{"r":4,"c":3,"s":"a","x":49,"y":2},{"r":4,"c":3,"s":"a","x":60,"y":1.5},{"r":4,"c":3,"s":"a","x":100,"y":1},
{"r":4,"c":3,"s":"b","x":0,"y":12},{"r":4,"c":3,"s":"b","x":1,"y":15},{"r":4,"c":3,"s":"b","x":2,"y":12},{"r":4,"c":3,"s":"b","x":3,"y":9},{"r":4,"c":3,"s":"b","x":5,"y":17},{"r":4,"c":3,"s":"b","x":8,"y":26},{"r":4,"c":3,"s":"b","x":10.5,"y":40},{"r":4,"c":3,"s":"b","x":12.7,"y":53},{"r":4,"c":3,"s":"b","x":15,"y":67},{"r":4,"c":3,"s":"b","x":17.5,"y":81},{"r":4,"c":3,"s":"b","x":19,"y":79},{"r":4,"c":3,"s":"b","x":20.5,"y":74},{"r":4,"c":3,"s":"b","x":22,"y":68},{"r":4,"c":3,"s":"b","x":23.5,"y":56},{"r":4,"c":3,"s":"b","x":25,"y":44},{"r":4,"c":3,"s":"b","x":27.5,"y":30},{"r":4,"c":3,"s":"b","x":30,"y":18},{"r":4,"c":3,"s":"b","x":32.5,"y":12},{"r":4,"c":3,"s":"b","x":35,"y":9},{"r":4,"c":3,"s":"b","x":38,"y":7},{"r":4,"c":3,"s":"b","x":40,"y":6},{"r":4,"c":3,"s":"b","x":43,"y":6.5},{"r":4,"c":3,"s":"b","x":45,"y":4},{"r":4,"c":3,"s":"b","x":49,"y":2},{"r":4,"c":3,"s":"b","x":55,"y":1.5},{"r":4,"c":3,"s":"b","x":100,"y":1},
{"r":4,"c":4,"s":"a","x":0,"y":8},{"r":4,"c":4,"s":"a","x":1.6,"y":20},{"r":4,"c":4,"s":"a","x":4,"y":28},{"r":4,"c":4,"s":"a","x":6,"y":35},{"r":4,"c":4,"s":"a","x":8.5,"y":50},{"r":4,"c":4,"s":"a","x":11,"y":65},{"r":4,"c":4,"s":"a","x":13.5,"y":78},{"r":4,"c":4,"s":"a","x":16,"y":90},{"r":4,"c":4,"s":"a","x":17.5,"y":86},{"r":4,"c":4,"s":"a","x":19,"y":79},{"r":4,"c":4,"s":"a","x":20.5,"y":65},{"r":4,"c":4,"s":"a","x":22,"y":50},{"r":4,"c":4,"s":"a","x":23.5,"y":36},{"r":4,"c":4,"s":"a","x":25,"y":21},{"r":4,"c":4,"s":"a","x":27.5,"y":14},{"r":4,"c":4,"s":"a","x":30,"y":9},{"r":4,"c":4,"s":"a","x":33,"y":6},{"r":4,"c":4,"s":"a","x":36.5,"y":4.5},{"r":4,"c":4,"s":"a","x":40,"y":3},{"r":4,"c":4,"s":"a","x":44,"y":1.5},{"r":4,"c":4,"s":"a","x":100,"y":1},
{"r":4,"c":4,"s":"b","x":0,"y":1},{"r":4,"c":4,"s":"b","x":14,"y":1},{"r":4,"c":4,"s":"b","x":16,"y":3},{"r":4,"c":4,"s":"b","x":17.5,"y":7},{"r":4,"c":4,"s":"b","x":20,"y":14},{"r":4,"c":4,"s":"b","x":22,"y":21},{"r":4,"c":4,"s":"b","x":25,"y":30},{"r":4,"c":4,"s":"b","x":28.6,"y":41},{"r":4,"c":4,"s":"b","x":31,"y":52},{"r":4,"c":4,"s":"b","x":33,"y":65},{"r":4,"c":4,"s":"b","x":35,"y":79},{"r":4,"c":4,"s":"b","x":37,"y":91},{"r":4,"c":4,"s":"b","x":38.5,"y":98},{"r":4,"c":4,"s":"b","x":40.5,"y":100},{"r":4,"c":4,"s":"b","x":41.5,"y":97},{"r":4,"c":4,"s":"b","x":42.5,"y":88},{"r":4,"c":4,"s":"b","x":43.5,"y":75},{"r":4,"c":4,"s":"b","x":44.8,"y":55},{"r":4,"c":4,"s":"b","x":46,"y":38},{"r":4,"c":4,"s":"b","x":47.5,"y":22},{"r":4,"c":4,"s":"b","x":49,"y":12},{"r":4,"c":4,"s":"b","x":50.5,"y":6},{"r":4,"c":4,"s":"b","x":52.5,"y":2.5},{"r":4,"c":4,"s":"b","x":55,"y":1.5},{"r":4,"c":4,"s":"b","x":100,"y":1},
{"r":5,"c":1,"s":"a","x":0,"y":3},{"r":5,"c":1,"s":"a","x":1.4,"y":20},{"r":5,"c":1,"s":"a","x":4,"y":44},{"r":5,"c":1,"s":"a","x":5.5,"y":55},{"r":5,"c":1,"s":"a","x":7,"y":67},{"r":5,"c":1,"s":"a","x":8.5,"y":76},{"r":5,"c":1,"s":"a","x":9.8,"y":84},{"r":5,"c":1,"s":"a","x":11.5,"y":88},{"r":5,"c":1,"s":"a","x":13.4,"y":91},{"r":5,"c":1,"s":"a","x":15,"y":89},{"r":5,"c":1,"s":"a","x":16,"y":87},{"r":5,"c":1,"s":"a","x":17,"y":80},{"r":5,"c":1,"s":"a","x":18,"y":72},{"r":5,"c":1,"s":"a","x":19,"y":60},{"r":5,"c":1,"s":"a","x":20,"y":49},{"r":5,"c":1,"s":"a","x":21.5,"y":34},{"r":5,"c":1,"s":"a","x":23,"y":20},{"r":5,"c":1,"s":"a","x":24.8,"y":10},{"r":5,"c":1,"s":"a","x":26.5,"y":4.6},{"r":5,"c":1,"s":"a","x":30,"y":3},{"r":5,"c":1,"s":"a","x":33.5,"y":2.6},{"r":5,"c":1,"s":"a","x":45,"y":2.6},{"r":5,"c":1,"s":"a","x":58.7,"y":2.6},{"r":5,"c":1,"s":"a","x":62,"y":1.5},{"r":5,"c":1,"s":"a","x":100,"y":1},
{"r":5,"c":1,"s":"b","x":0,"y":1},{"r":5,"c":1,"s":"b","x":2.5,"y":5},{"r":5,"c":1,"s":"b","x":5.6,"y":9},{"r":5,"c":1,"s":"b","x":8.5,"y":13},{"r":5,"c":1,"s":"b","x":11,"y":17.6},{"r":5,"c":1,"s":"b","x":14,"y":24},{"r":5,"c":1,"s":"b","x":16.8,"y":32},{"r":5,"c":1,"s":"b","x":19.5,"y":39},{"r":5,"c":1,"s":"b","x":21.8,"y":46},{"r":5,"c":1,"s":"b","x":23.5,"y":49},{"r":5,"c":1,"s":"b","x":24.6,"y":50},{"r":5,"c":1,"s":"b","x":25.8,"y":46},{"r":5,"c":1,"s":"b","x":27,"y":41},{"r":5,"c":1,"s":"b","x":29,"y":35},{"r":5,"c":1,"s":"b","x":30.7,"y":29},{"r":5,"c":1,"s":"b","x":33,"y":23},{"r":5,"c":1,"s":"b","x":35,"y":19},{"r":5,"c":1,"s":"b","x":37,"y":20},{"r":5,"c":1,"s":"b","x":39,"y":22},{"r":5,"c":1,"s":"b","x":42,"y":26},{"r":5,"c":1,"s":"b","x":44.7,"y":28},{"r":5,"c":1,"s":"b","x":47,"y":29},{"r":5,"c":1,"s":"b","x":48.5,"y":27},{"r":5,"c":1,"s":"b","x":50,"y":23},{"r":5,"c":1,"s":"b","x":52,"y":19},{"r":5,"c":1,"s":"b","x":54.5,"y":15},{"r":5,"c":1,"s":"b","x":56.5,"y":11},{"r":5,"c":1,"s":"b","x":58.7,"y":7.5},{"r":5,"c":1,"s":"b","x":61,"y":4.5},{"r":5,"c":1,"s":"b","x":63,"y":2.6},{"r":5,"c":1,"s":"b","x":66,"y":1.5},{"r":5,"c":1,"s":"b","x":100,"y":1},
{"r":5,"c":2,"s":"a","x":0,"y":4},{"r":5,"c":2,"s":"a","x":1,"y":15},{"r":5,"c":2,"s":"a","x":3,"y":29},{"r":5,"c":2,"s":"a","x":5.3,"y":44},{"r":5,"c":2,"s":"a","x":7.5,"y":61},{"r":5,"c":2,"s":"a","x":9.5,"y":79},{"r":5,"c":2,"s":"a","x":11.5,"y":93},{"r":5,"c":2,"s":"a","x":13.7,"y":99},{"r":5,"c":2,"s":"a","x":15,"y":95},{"r":5,"c":2,"s":"a","x":16.5,"y":87},{"r":5,"c":2,"s":"a","x":17.7,"y":74},{"r":5,"c":2,"s":"a","x":18.8,"y":61},{"r":5,"c":2,"s":"a","x":20,"y":47},{"r":5,"c":2,"s":"a","x":21.6,"y":32},{"r":5,"c":2,"s":"a","x":23,"y":22},{"r":5,"c":2,"s":"a","x":25,"y":15},{"r":5,"c":2,"s":"a","x":27.5,"y":8},{"r":5,"c":2,"s":"a","x":30.5,"y":4.6},{"r":5,"c":2,"s":"a","x":36,"y":3},{"r":5,"c":2,"s":"a","x":50,"y":2},{"r":5,"c":2,"s":"a","x":60,"y":1.5},{"r":5,"c":2,"s":"a","x":100,"y":1},
{"r":5,"c":2,"s":"b","x":0,"y":20},{"r":5,"c":2,"s":"b","x":2.5,"y":23.5},{"r":5,"c":2,"s":"b","x":4.5,"y":29},{"r":5,"c":2,"s":"b","x":6.7,"y":35},{"r":5,"c":2,"s":"b","x":9,"y":41},{"r":5,"c":2,"s":"b","x":11,"y":46},{"r":5,"c":2,"s":"b","x":12.5,"y":50},{"r":5,"c":2,"s":"b","x":13.7,"y":51},{"r":5,"c":2,"s":"b","x":15,"y":48},{"r":5,"c":2,"s":"b","x":16.5,"y":44},{"r":5,"c":2,"s":"b","x":18,"y":35},{"r":5,"c":2,"s":"b","x":19.3,"y":27},{"r":5,"c":2,"s":"b","x":21.5,"y":18},{"r":5,"c":2,"s":"b","x":23.5,"y":10.7},{"r":5,"c":2,"s":"b","x":26,"y":7.5},{"r":5,"c":2,"s":"b","x":29,"y":5.8},{"r":5,"c":2,"s":"b","x":32,"y":6},{"r":5,"c":2,"s":"b","x":34.7,"y":7},{"r":5,"c":2,"s":"b","x":37,"y":11},{"r":5,"c":2,"s":"b","x":40,"y":16},{"r":5,"c":2,"s":"b","x":43,"y":20},{"r":5,"c":2,"s":"b","x":46,"y":22.6},{"r":5,"c":2,"s":"b","x":49,"y":23.5},{"r":5,"c":2,"s":"b","x":51.5,"y":24},{"r":5,"c":2,"s":"b","x":55,"y":22},{"r":5,"c":2,"s":"b","x":58.5,"y":20},{"r":5,"c":2,"s":"b","x":61,"y":17},{"r":5,"c":2,"s":"b","x":64,"y":14.5},{"r":5,"c":2,"s":"b","x":67,"y":10},{"r":5,"c":2,"s":"b","x":70,"y":5.5},{"r":5,"c":2,"s":"b","x":72,"y":3},{"r":5,"c":2,"s":"b","x":74,"y":2},{"r":5,"c":2,"s":"b","x":100,"y":1},
{"r":5,"c":3,"s":"a","x":0,"y":4},{"r":5,"c":3,"s":"a","x":1.4,"y":9},{"r":5,"c":3,"s":"a","x":3.5,"y":17},{"r":5,"c":3,"s":"a","x":5.5,"y":26},{"r":5,"c":3,"s":"a","x":7.5,"y":38},{"r":5,"c":3,"s":"a","x":9.6,"y":52},{"r":5,"c":3,"s":"a","x":11.5,"y":64},{"r":5,"c":3,"s":"a","x":13.7,"y":75},{"r":5,"c":3,"s":"a","x":15,"y":81},{"r":5,"c":3,"s":"a","x":16.4,"y":87},{"r":5,"c":3,"s":"a","x":18.6,"y":90},{"r":5,"c":3,"s":"a","x":20,"y":85},{"r":5,"c":3,"s":"a","x":21.3,"y":78},{"r":5,"c":3,"s":"a","x":22.2,"y":67},{"r":5,"c":3,"s":"a","x":23,"y":55},{"r":5,"c":3,"s":"a","x":24.5,"y":44},{"r":5,"c":3,"s":"a","x":26,"y":32},{"r":5,"c":3,"s":"a","x":27.7,"y":22},{"r":5,"c":3,"s":"a","x":29.5,"y":15},{"r":5,"c":3,"s":"a","x":31,"y":10},{"r":5,"c":3,"s":"a","x":32.8,"y":7.8},{"r":5,"c":3,"s":"a","x":35,"y":6},{"r":5,"c":3,"s":"a","x":38,"y":5},{"r":5,"c":3,"s":"a","x":42,"y":5},{"r":5,"c":3,"s":"a","x":46,"y":5},{"r":5,"c":3,"s":"a","x":50,"y":4},{"r":5,"c":3,"s":"a","x":55,"y":3},{"r":5,"c":3,"s":"a","x":60,"y":1.5},{"r":5,"c":3,"s":"a","x":100,"y":1},
{"r":5,"c":3,"s":"b","x":0,"y":1},{"r":5,"c":3,"s":"b","x":33,"y":1},{"r":5,"c":3,"s":"b","x":35,"y":2},{"r":5,"c":3,"s":"b","x":38,"y":7.8},{"r":5,"c":3,"s":"b","x":40,"y":13},{"r":5,"c":3,"s":"b","x":42,"y":20},{"r":5,"c":3,"s":"b","x":44,"y":34},{"r":5,"c":3,"s":"b","x":46,"y":52},{"r":5,"c":3,"s":"b","x":47.5,"y":68},{"r":5,"c":3,"s":"b","x":49,"y":84},{"r":5,"c":3,"s":"b","x":50.5,"y":95},{"r":5,"c":3,"s":"b","x":52,"y":100},{"r":5,"c":3,"s":"b","x":53.3,"y":95},{"r":5,"c":3,"s":"b","x":54.6,"y":87},{"r":5,"c":3,"s":"b","x":56,"y":75},{"r":5,"c":3,"s":"b","x":57.4,"y":61},{"r":5,"c":3,"s":"b","x":59,"y":45},{"r":5,"c":3,"s":"b","x":60.5,"y":33},{"r":5,"c":3,"s":"b","x":61.5,"y":26},{"r":5,"c":3,"s":"b","x":63.5,"y":16},{"r":5,"c":3,"s":"b","x":65.6,"y":9},{"r":5,"c":3,"s":"b","x":67.5,"y":5},{"r":5,"c":3,"s":"b","x":69.7,"y":2.3},{"r":5,"c":3,"s":"b","x":72,"y":1.5},{"r":5,"c":3,"s":"b","x":100,"y":1},
{"r":5,"c":4,"s":"a","x":0,"y":5},{"r":5,"c":4,"s":"a","x":1.4,"y":15},{"r":5,"c":4,"s":"a","x":3.5,"y":20},{"r":5,"c":4,"s":"a","x":5.6,"y":26},{"r":5,"c":4,"s":"a","x":7.7,"y":35},{"r":5,"c":4,"s":"a","x":9.8,"y":44},{"r":5,"c":4,"s":"a","x":12,"y":57},{"r":5,"c":4,"s":"a","x":14,"y":70},{"r":5,"c":4,"s":"a","x":16,"y":82},{"r":5,"c":4,"s":"a","x":18,"y":90},{"r":5,"c":4,"s":"a","x":19.5,"y":88},{"r":5,"c":4,"s":"a","x":21,"y":84},{"r":5,"c":4,"s":"a","x":22.4,"y":72},{"r":5,"c":4,"s":"a","x":23.8,"y":58},{"r":5,"c":4,"s":"a","x":25.5,"y":44},{"r":5,"c":4,"s":"a","x":28,"y":26},{"r":5,"c":4,"s":"a","x":30,"y":18},{"r":5,"c":4,"s":"a","x":32,"y":12},{"r":5,"c":4,"s":"a","x":35,"y":8},{"r":5,"c":4,"s":"a","x":37.8,"y":6.6},{"r":5,"c":4,"s":"a","x":41,"y":6},{"r":5,"c":4,"s":"a","x":44.8,"y":5.5},{"r":5,"c":4,"s":"a","x":49,"y":4.5},{"r":5,"c":4,"s":"a","x":53,"y":4},{"r":5,"c":4,"s":"a","x":60,"y":2.5},{"r":5,"c":4,"s":"a","x":100,"y":2},
{"r":5,"c":4,"s":"b","x":0,"y":5},{"r":5,"c":4,"s":"b","x":1.4,"y":9},{"r":5,"c":4,"s":"b","x":2.5,"y":14},{"r":5,"c":4,"s":"b","x":4,"y":19},{"r":5,"c":4,"s":"b","x":6,"y":27},{"r":5,"c":4,"s":"b","x":8,"y":36},{"r":5,"c":4,"s":"b","x":10,"y":45},{"r":5,"c":4,"s":"b","x":12,"y":56},{"r":5,"c":4,"s":"b","x":14,"y":68},{"r":5,"c":4,"s":"b","x":16,"y":81},{"r":5,"c":4,"s":"b","x":18,"y":91},{"r":5,"c":4,"s":"b","x":19.5,"y":89},{"r":5,"c":4,"s":"b","x":21,"y":82},{"r":5,"c":4,"s":"b","x":23,"y":70},{"r":5,"c":4,"s":"b","x":25,"y":61},{"r":5,"c":4,"s":"b","x":27,"y":43},{"r":5,"c":4,"s":"b","x":29.4,"y":23},{"r":5,"c":4,"s":"b","x":31.5,"y":15},{"r":5,"c":4,"s":"b","x":33.6,"y":10},{"r":5,"c":4,"s":"b","x":37,"y":8},{"r":5,"c":4,"s":"b","x":42,"y":6},{"r":5,"c":4,"s":"b","x":46,"y":4},{"r":5,"c":4,"s":"b","x":50,"y":3},{"r":5,"c":4,"s":"b","x":60,"y":2},{"r":5,"c":4,"s":"b","x":100,"y":1.5}
]},
"spacing": 14,
"vconcat": [
 {"title": {"text": "(NZB x NZW.H-2ᵈ) F1  H-2ᵈᐟᵈ (Aᵈᐟᵈ E¹)", "anchor": "start", "frame": "group", "dx": 81, "fontSize": 19, "offset": 7},
  "data": {"name": "d"}, "transform": [{"filter": "datum.r == 1"}],
  "facet": {"column": {"field": "c", "type": "ordinal", "header": null}},
  "spacing": 6, "resolve": {"axis": {"y": "independent"}},
  "spec": {"width": 119, "height": 115, "mark": {"type": "line", "interpolate": "linear"},
   "encoding": {
    "x": {"field": "x", "type": "quantitative", "scale": {"domain": [0, 100]}, "axis": {"values": [0,5,10,15,20,25,30,35,40,45,50,55,60,65,70,75,80,85,90,95,100]}},
    "y": {"field": "y", "type": "quantitative", "scale": {"domain": [0, 100]}, "axis": {"values": [0,5,10,15,20,25,30,35,40,45,50,55,60,65,70,75,80,85,90,95,100]}},
    "color": {"field": "s", "type": "nominal", "scale": {"domain": ["a", "b"], "range": ["#444444", "#000000"]}, "legend": null},
    "strokeDash": {"field": "s", "type": "nominal", "scale": {"domain": ["a", "b"], "range": [[2, 2], [1, 0]]}, "legend": null},
    "strokeWidth": {"field": "s", "type": "ordinal", "scale": {"domain": ["a", "b"], "range": [1, 2.8]}, "legend": null},
    "order": {"field": "x", "type": "quantitative"}}}},
 {"title": {"text": "(NZB x NZW.GD) F1  H-2ᵈᐟᵍ² (Aᵈᐟᵈ E¹ᐟ²)", "anchor": "start", "frame": "group", "dx": 81, "fontSize": 19, "offset": 7},
  "data": {"name": "d"}, "transform": [{"filter": "datum.r == 2"}],
  "facet": {"column": {"field": "c", "type": "ordinal", "header": null}},
  "spacing": 6, "resolve": {"axis": {"y": "independent"}},
  "spec": {"width": 119, "height": 115, "mark": {"type": "line", "interpolate": "linear"},
   "encoding": {
    "x": {"field": "x", "type": "quantitative", "scale": {"domain": [0, 100]}, "axis": {"values": [0,5,10,15,20,25,30,35,40,45,50,55,60,65,70,75,80,85,90,95,100]}},
    "y": {"field": "y", "type": "quantitative", "scale": {"domain": [0, 100]}, "axis": {"values": [0,5,10,15,20,25,30,35,40,45,50,55,60,65,70,75,80,85,90,95,100]}},
    "color": {"field": "s", "type": "nominal", "scale": {"domain": ["a", "b"], "range": ["#444444", "#000000"]}, "legend": null},
    "strokeDash": {"field": "s", "type": "nominal", "scale": {"domain": ["a", "b"], "range": [[2, 2], [1, 0]]}, "legend": null},
    "strokeWidth": {"field": "s", "type": "ordinal", "scale": {"domain": ["a", "b"], "range": [1, 2.8]}, "legend": null},
    "order": {"field": "x", "type": "quantitative"}}}},
 {"title": {"text": "(NZB.GDr x NZW.GD) F1  H-2ᵍ²ʳᐟᵍ² (Aᵈᐟᵈ E¹ᐟ²)", "anchor": "start", "frame": "group", "dx": 81, "fontSize": 19, "offset": 7},
  "data": {"name": "d"}, "transform": [{"filter": "datum.r == 3"}],
  "facet": {"column": {"field": "c", "type": "ordinal", "header": null}},
  "spacing": 6, "resolve": {"axis": {"y": "independent"}},
  "spec": {"width": 119, "height": 115, "mark": {"type": "line", "interpolate": "linear"},
   "encoding": {
    "x": {"field": "x", "type": "quantitative", "scale": {"domain": [0, 100]}, "axis": {"values": [0,5,10,15,20,25,30,35,40,45,50,55,60,65,70,75,80,85,90,95,100]}},
    "y": {"field": "y", "type": "quantitative", "scale": {"domain": [0, 100]}, "axis": {"values": [0,5,10,15,20,25,30,35,40,45,50,55,60,65,70,75,80,85,90,95,100]}},
    "color": {"field": "s", "type": "nominal", "scale": {"domain": ["a", "b"], "range": ["#444444", "#000000"]}, "legend": null},
    "strokeDash": {"field": "s", "type": "nominal", "scale": {"domain": ["a", "b"], "range": [[2, 2], [1, 0]]}, "legend": null},
    "strokeWidth": {"field": "s", "type": "ordinal", "scale": {"domain": ["a", "b"], "range": [1, 2.8]}, "legend": null},
    "order": {"field": "x", "type": "quantitative"}}}},
 {"title": {"text": "(NZB.GD x NZW.GD) F1  H-2ᵍ²ᐟᵍ² (Aᵈᐟᵈ E⁰)", "anchor": "start", "frame": "group", "dx": 81, "fontSize": 19, "offset": 7},
  "data": {"name": "d"}, "transform": [{"filter": "datum.r == 4"}],
  "facet": {"column": {"field": "c", "type": "ordinal", "header": null}},
  "spacing": 6, "resolve": {"axis": {"y": "independent"}},
  "spec": {"width": 119, "height": 115, "mark": {"type": "line", "interpolate": "linear"},
   "encoding": {
    "x": {"field": "x", "type": "quantitative", "scale": {"domain": [0, 100]}, "axis": {"values": [0,5,10,15,20,25,30,35,40,45,50,55,60,65,70,75,80,85,90,95,100]}},
    "y": {"field": "y", "type": "quantitative", "scale": {"domain": [0, 100]}, "axis": {"values": [0,5,10,15,20,25,30,35,40,45,50,55,60,65,70,75,80,85,90,95,100]}},
    "color": {"field": "s", "type": "nominal", "scale": {"domain": ["a", "b"], "range": ["#444444", "#000000"]}, "legend": null},
    "strokeDash": {"field": "s", "type": "nominal", "scale": {"domain": ["a", "b"], "range": [[2, 2], [1, 0]]}, "legend": null},
    "strokeWidth": {"field": "s", "type": "ordinal", "scale": {"domain": ["a", "b"], "range": [1, 2.8]}, "legend": null},
    "order": {"field": "x", "type": "quantitative"}}}},
 {"title": {"text": "(NZB x NZW) F1  H-2ᵈᐟᶻ (Aᵈᐟᶻ E¹)", "anchor": "start", "frame": "group", "dx": 81, "fontSize": 19, "offset": 7},
  "data": {"name": "d"}, "transform": [{"filter": "datum.r == 5"}],
  "facet": {"column": {"field": "c", "type": "ordinal", "header": {"title": null, "labelOrient": "bottom", "labelFont": "DejaVu Sans", "labelFontSize": 17, "labelColor": "#000", "labelPadding": 3, "labelExpr": "['Aᵈ','E','Dᵈ','Dᵇ'][datum.value - 1]"}}},
  "spacing": 6, "resolve": {"axis": {"y": "independent"}},
  "spec": {"width": 119, "height": 115, "mark": {"type": "line", "interpolate": "linear"},
   "encoding": {
    "x": {"field": "x", "type": "quantitative", "scale": {"domain": [0, 100]}, "axis": {"values": [0,5,10,15,20,25,30,35,40,45,50,55,60,65,70,75,80,85,90,95,100]}},
    "y": {"field": "y", "type": "quantitative", "scale": {"domain": [0, 100]}, "axis": {"values": [0,5,10,15,20,25,30,35,40,45,50,55,60,65,70,75,80,85,90,95,100]}},
    "color": {"field": "s", "type": "nominal", "scale": {"domain": ["a", "b"], "range": ["#444444", "#000000"]}, "legend": null},
    "strokeDash": {"field": "s", "type": "nominal", "scale": {"domain": ["a", "b"], "range": [[2, 2], [1, 0]]}, "legend": null},
    "strokeWidth": {"field": "s", "type": "ordinal", "scale": {"domain": ["a", "b"], "range": [1, 2.8]}, "legend": null},
    "order": {"field": "x", "type": "quantitative"}}}}
]
}
